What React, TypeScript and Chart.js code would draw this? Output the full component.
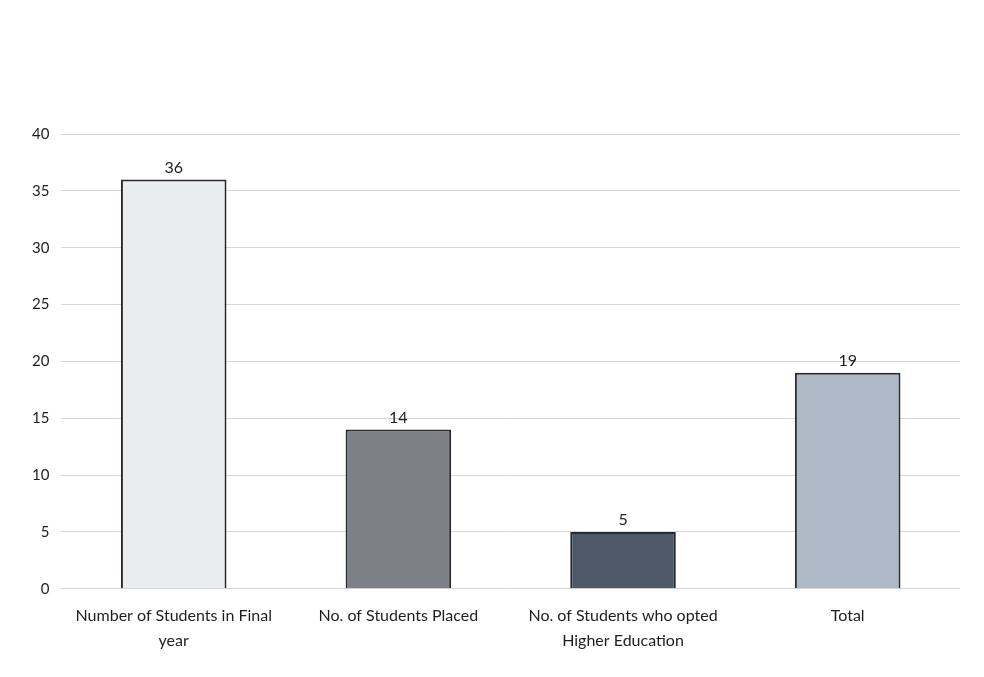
import React, { useEffect, useRef } from "react";
import { Chart, registerables } from "chart.js";

Chart.register(...registerables);

const categories: string[][] = [
  ["Number of Students in Final", "year"],
  ["No. of Students Placed"],
  ["No. of Students who opted", "Higher Education"],
  ["Total"],
];
const values: number[] = [36, 14, 5, 19];
const barColors: string[] = ["#e9eded", "#7b8186", "#4d5869", "#adb9c6"];
const yTicks: number[] = [0, 5, 10, 15, 20, 25, 30, 35, 40];

const FONT = "Lato, 'Open Sans', sans-serif";

const valueLabels = {
  id: "valueLabels",
  afterDatasetsDraw(chart: any) {
    const ctx = chart.ctx;
    const meta = chart.getDatasetMeta(0);
    ctx.save();
    ctx.fillStyle = "#1e1e1e";
    ctx.font = `16px ${FONT}`;
    ctx.textAlign = "center";
    ctx.textBaseline = "bottom";
    meta.data.forEach((bar: any, i: number) => {
      ctx.fillText(String(chart.data.datasets[0].data[i]), bar.x, bar.y - 4);
    });
    ctx.restore();
  },
};

export default function App() {
  const ref = useRef<HTMLCanvasElement | null>(null);
  useEffect(() => {
    if (!ref.current) return;
    const chart = new Chart(ref.current, {
      type: "bar",
      data: {
        labels: categories,
        datasets: [
          {
            data: values,
            backgroundColor: barColors,
            borderColor: "#2a2a2a",
            borderWidth: 2,
            barPercentage: 0.47,
            categoryPercentage: 1,
          },
        ],
      },
      options: {
        animation: false,
        responsive: true,
        maintainAspectRatio: false,
        layout: { padding: { top: 126, left: 12, right: 16, bottom: 8 } },
        plugins: {
          legend: { display: false },
          tooltip: { enabled: false },
        },
        scales: {
          x: {
            grid: { display: false },
            border: { display: false },
            ticks: {
              color: "#1e1e1e",
              font: { family: FONT, size: 16, lineHeight: 1.6 },
              padding: 6,
              maxRotation: 0,
              autoSkip: false,
            },
          },
          y: {
            min: 0,
            max: 40,
            afterBuildTicks: (axis: any) => {
              axis.ticks = yTicks.map((v) => ({ value: v }));
            },
            grid: { color: "#d6d6d6", lineWidth: 1, drawTicks: false },
            border: { display: false },
            ticks: {
              color: "#1e1e1e",
              font: { family: FONT, size: 15 },
              padding: 12,
            },
          },
        },
      },
      plugins: [valueLabels],
    });
    return () => chart.destroy();
  }, []);
  return (
    <div style={{ width: 968, height: 660, position: "relative", background: "#fff" }}>
      <canvas ref={ref} />
    </div>
  );
}
